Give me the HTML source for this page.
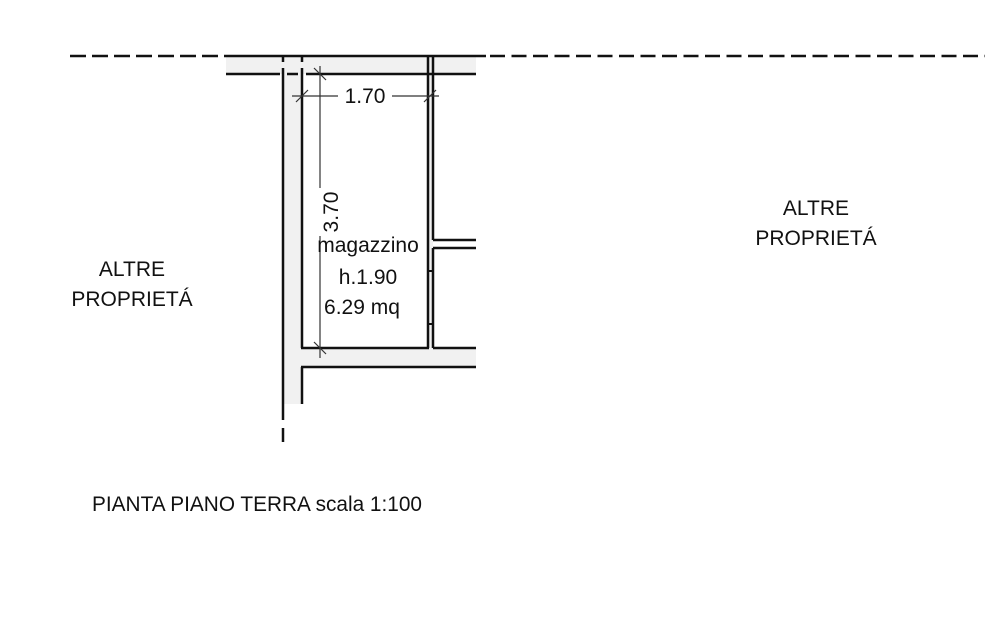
<!DOCTYPE html>
<html><head><meta charset="utf-8"><style>html,body{margin:0;padding:0;background:#fff}svg{display:block}</style></head>
<body>
<svg width="1000" height="642" viewBox="0 0 1000 642" xmlns="http://www.w3.org/2000/svg" font-family="Liberation Sans, Arial, sans-serif" fill="#111">
<rect width="1000" height="642" fill="#fff"/>
<g fill="#f1f1f1">
<rect x="226" y="56" width="250" height="18"/>
<rect x="283" y="74" width="19" height="330"/>
<rect x="302" y="348" width="174" height="19"/>
<rect x="428" y="74" width="5" height="274"/>
</g>
<g stroke="#111" stroke-width="2.5" fill="none">
<line x1="70" y1="56" x2="226" y2="56" stroke-dasharray="16 6"/>
<line x1="226" y1="56" x2="486" y2="56"/>
<line x1="490" y1="56" x2="985" y2="56" stroke-dasharray="15 6.5"/>
<line x1="226" y1="74" x2="280" y2="74"/>
<line x1="287" y1="74" x2="298" y2="74"/>
<line x1="306" y1="74" x2="476" y2="74"/>
<line x1="283" y1="56" x2="283" y2="62"/>
<line x1="283" y1="68" x2="283" y2="420"/>
<line x1="283" y1="428" x2="283" y2="442"/>
<line x1="302" y1="56" x2="302" y2="62"/>
<line x1="302" y1="68" x2="302" y2="348"/>
<line x1="302" y1="367" x2="302" y2="404"/>
<line x1="428" y1="56" x2="428" y2="348"/>
<line x1="433" y1="56" x2="433" y2="240"/>
<line x1="433" y1="248" x2="433" y2="348"/>
<line x1="433" y1="240" x2="476" y2="240"/>
<line x1="433" y1="248" x2="476" y2="248"/>
<line x1="301" y1="348" x2="429" y2="348"/>
<line x1="433" y1="348" x2="476" y2="348"/>
<line x1="301" y1="367" x2="476" y2="367"/>
<line x1="428" y1="271" x2="433" y2="271" stroke-width="2"/>
<line x1="428" y1="324" x2="433" y2="324" stroke-width="2"/>
</g>
<g stroke="#333" stroke-width="1.2">
<line x1="320" y1="66" x2="320" y2="188"/>
<line x1="320" y1="236" x2="320" y2="358"/>
<line x1="314" y1="68" x2="326" y2="80"/>
<line x1="314" y1="342" x2="326" y2="354"/>
<line x1="292" y1="96" x2="338" y2="96"/>
<line x1="392" y1="96" x2="439" y2="96"/>
<line x1="296" y1="102" x2="308" y2="90"/>
<line x1="424" y1="102" x2="436" y2="90"/>
</g>
<g font-size="21">
<text x="365" y="103" text-anchor="middle">1.70</text>
<text transform="translate(338,212) rotate(-90)" text-anchor="middle">3.70</text>
<text x="368" y="252" text-anchor="middle">magazzino</text>
<text x="368" y="284" text-anchor="middle">h.1.90</text>
<text x="362" y="314" text-anchor="middle">6.29 mq</text>
<text x="132" y="276" text-anchor="middle">ALTRE</text>
<text x="132" y="306" text-anchor="middle">PROPRIETÁ</text>
<text x="816" y="215" text-anchor="middle">ALTRE</text>
<text x="816" y="245" text-anchor="middle">PROPRIETÁ</text>
<text x="92" y="511" textLength="330" lengthAdjust="spacingAndGlyphs">PIANTA PIANO TERRA scala 1:100</text>
</g>
</svg>
</body></html>
